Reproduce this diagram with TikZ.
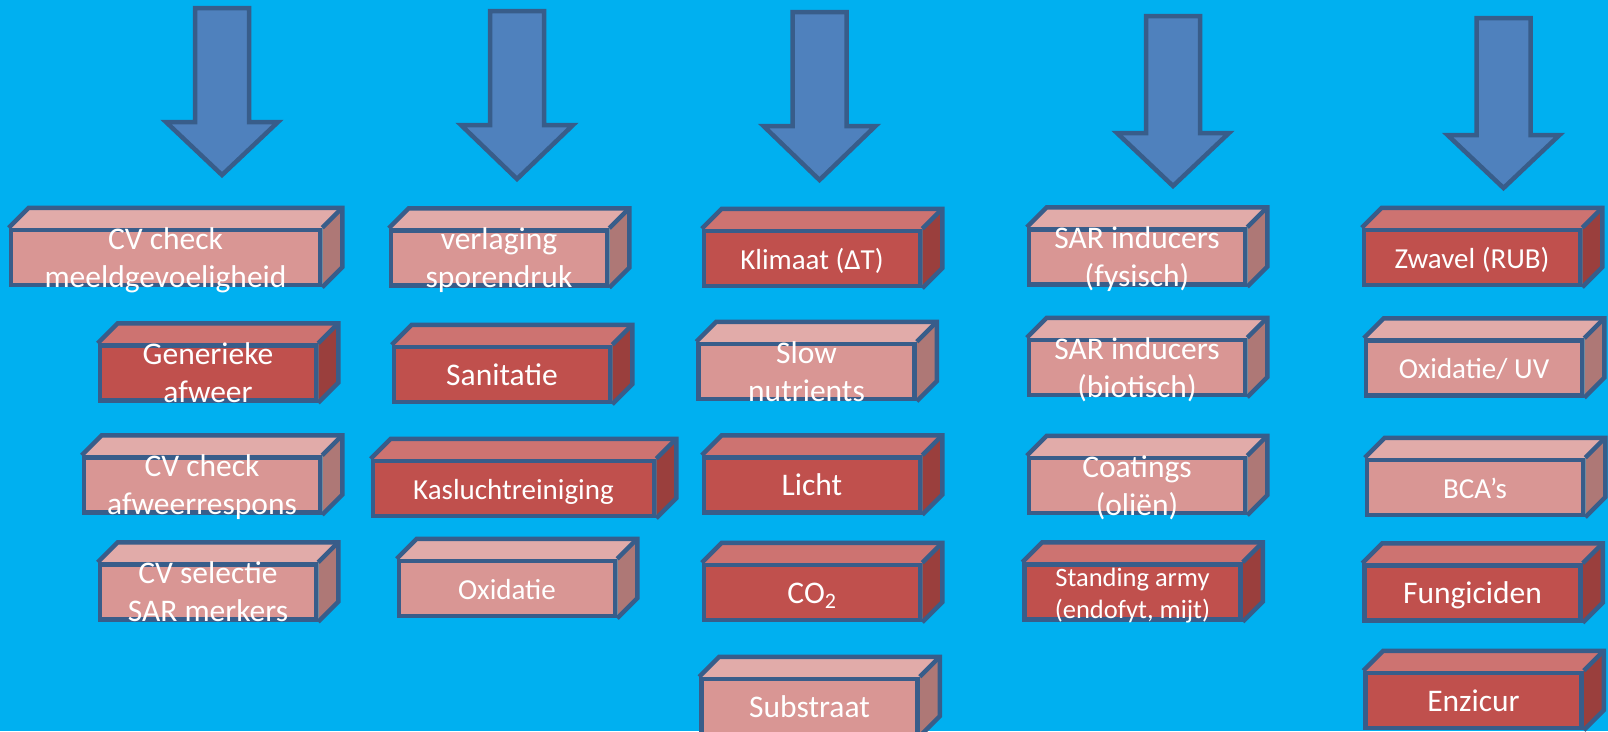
\documentclass[tikz,border=0pt]{standalone}
\usepackage{fontspec}
\setmainfont{Carlito}
\usepackage{xcolor}
\usepackage{tikz}

\definecolor{achtergrond}{HTML}{00B0F0}
\definecolor{rand}{HTML}{385D8A}
\definecolor{pijlblauw}{HTML}{4F81BD}
\definecolor{vlakrood}{HTML}{C0504D}
\definecolor{toprood}{HTML}{CD7371}
\definecolor{zijrood}{HTML}{9A3F3D}
\definecolor{vlakroze}{HTML}{D99694}
\definecolor{toproze}{HTML}{E1ABA9}
\definecolor{zijroze}{HTML}{AE7876}

\pgfdeclarelayer{achter}
\pgfsetlayers{achter,main}

\newcommand{\tweeregels}[3][19pt]{\raisebox{#1}{\begin{tabular}[t]{@{}c@{}}#2\\#3\end{tabular}}}

\begin{document}
\begin{tikzpicture}[x=1pt, y=-1pt, line join=miter,
  blok/.style={draw=rand, line width=4.5pt, inner sep=0pt, text=white,
               minimum width=216pt, minimum height=55pt,
               text height=21.2pt, text depth=0pt,
               font=\fontsize{31.5}{38}\selectfont},
  rood/.style={blok, fill=vlakrood},
  roze/.style={blok, fill=vlakroze},
  klein/.style={font=\fontsize{29}{35}\selectfont},
  kleinst/.style={font=\fontsize{26.5}{32}\selectfont},
  vlak/.style={draw=rand, line width=4.5pt},
  pijl/.style={draw=rand, fill=pijlblauw, line width=4.5pt}]

\useasboundingbox (0,0) rectangle (1608,731);
\begin{pgfonlayer}{achter}
  \fill[achtergrond] (0,0) rectangle (1608,731);
\end{pgfonlayer}

\foreach \px/\ya/\yb/\yc in {222/6/120/179, 517/9/123/183, 819.5/10/124/184,
                             1173/14/131/190, 1503.5/16/133/192}
  \filldraw[pijl] (\px-27,\ya+2) -- (\px+27,\ya+2) -- (\px+27,\yb+2)
    -- (\px+56,\yb+2) -- (\px,\yc-4) -- (\px-56,\yb+2) -- (\px-27,\yb+2) -- cycle;

\node[roze, minimum width=309pt] (a1) at (165.5,257.5) {\tweeregels{CV check}{meeldgevoeligheid}};
\node[rood] (a2) at (208,373)   {\tweeregels{Generieke}{afweer}};
\node[roze, minimum width=236pt] (a3) at (202,485) {\tweeregels{CV check}{afweerrespons}};
\node[roze] (a4) at (208,592)   {\tweeregels{CV selectie}{SAR merkers}};

\node[roze] (b1) at (499,258)   {\tweeregels{verlaging}{sporendruk}};
\node[rood] (b2) at (502,374.5) {Sanitatie};
\node[rood, klein, minimum width=281pt] (b3) at (513.5,488.5) {Kasluchtreiniging};
\node[roze, klein] (b4) at (507,588.5) {Oxidatie};

\node[rood, klein] (c1) at (812,258.5) {Klimaat (ΔT)};
\node[roze] (c2) at (806.5,371.5) {\tweeregels{Slow}{nutrients}};
\node[rood] (c3) at (812,485)   {Licht};
\node[rood] (c4) at (812,592.5) {CO\textsubscript{2}};
\node[roze] (c5) at (809.5,706.5) {Substraat};

\node[roze] (d1) at (1137,257)  {\tweeregels{SAR inducers}{(fysisch)}};
\node[roze] (d2) at (1137,367.5) {\tweeregels{SAR inducers}{(biotisch)}};
\node[roze] (d3) at (1137,485.5) {\tweeregels{Coatings}{(oliën)}};
\node[rood, kleinst] (d4) at (1132.5,592) {\tweeregels[16pt]{Standing army}{(endofyt, mijt)}};

\node[rood, klein] (e1) at (1472,257.5) {Zwavel (RUB)};
\node[roze, klein] (e2) at (1474,368) {Oxidatie/ UV};
\node[roze, klein] (e3) at (1475,487.5) {BCA’s};
\node[rood] (e4) at (1472.5,593) {Fungiciden};
\node[rood] (e5) at (1473.5,700.5) {Enzicur};

\begin{pgfonlayer}{achter}
  \foreach \n/\k in {a1/roze, a2/rood, a3/roze, a4/roze, b1/roze, b2/rood, b3/rood,
                     b4/roze, c1/rood, c2/roze, c3/rood, c4/rood, c5/roze, d1/roze,
                     d2/roze, d3/roze, d4/rood, e1/rood, e2/roze, e3/roze, e4/rood,
                     e5/rood} {
    \fill[top\k] (\n.north west) -- ([shift={(20,-20)}]\n.north west)
      -- ([shift={(20,-20)}]\n.north east) -- (\n.north east) -- cycle;
    \fill[zij\k] (\n.north east) -- ([shift={(20,-20)}]\n.north east)
      -- ([shift={(20,-20)}]\n.south east) -- (\n.south east) -- cycle;
    \draw[vlak] (\n.north west) -- ([shift={(20,-20)}]\n.north west)
      -- ([shift={(20,-20)}]\n.north east) -- ([shift={(20,-20)}]\n.south east)
      -- (\n.south east);
    \draw[vlak] (\n.north east) -- ([shift={(20,-20)}]\n.north east);
  }
\end{pgfonlayer}
\end{tikzpicture}
\end{document}
